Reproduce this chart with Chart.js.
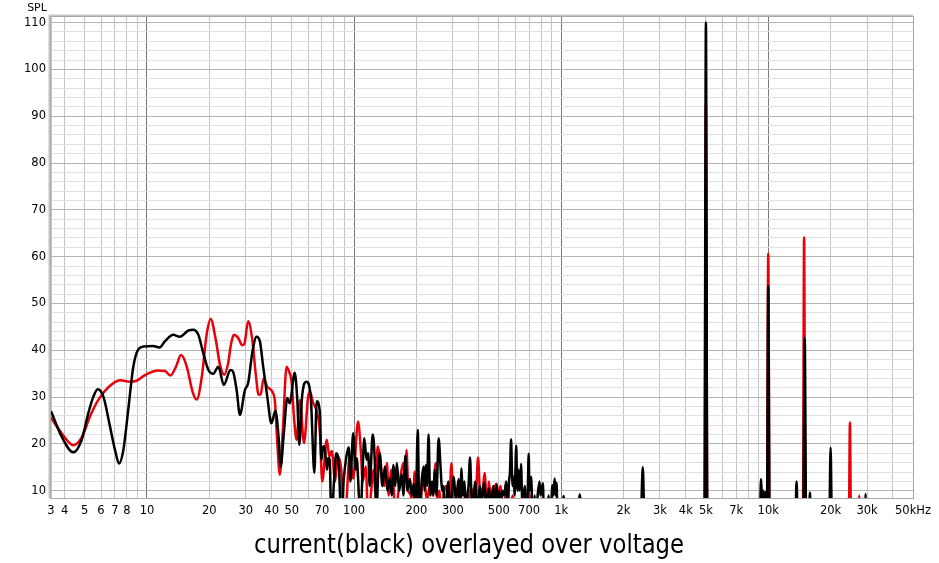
<!DOCTYPE html>
<html><head><meta charset="utf-8">
<script src="https://cdn.jsdelivr.net/npm/chart.js@4/dist/chart.umd.min.js"></script>
<style>html,body{margin:0;padding:0;background:#fff}</style>
</head><body>
<canvas id="c" width="939" height="563"></canvas>
<script>
// ---- data: [frequency Hz, level] ----
const currentLow = [[3.44,27.0],[3.87,21.6],[4.41,18.2],[4.84,20.9],[5.21,26.6],[5.5,30],[5.78,31.7],[6.16,30.1],[6.63,23.7],[7.01,18.7],[7.33,15.8],[7.69,18.7],[8.12,27.3],[8.59,36.5],[9.08,40.2],[9.6,40.8],[10.7,40.9],[11.5,40.6],[12.2,41.9],[13.4,43.3],[14.4,42.9],[15.8,44.2],[16.7,44.4],[17.7,43.3],[18.7,39.4],[19.8,35.8],[20.9,35],[22.1,36.5],[23.5,32.6],[25.3,35.8],[26,35.5],[27.1,31.5],[28.1,26.2],[29.7,31.5],[30.8,33],[32.3,39.7],[33.8,42.9],[35.1,41.9],[36.4,36.5],[38.1,30.1],[39.9,24.4],[41.7,27.1],[43.3,20.9],[44.2,15.2],[45.8,22.3],[47.6,29.8],[48.9,28.7],[51.7,35.2],[53.2,29.4],[54.4,19.8],[56.1,30.1],[58.9,33.3],[61.9,29.4]];
const currentMid = [[64.3,13.8],[66,29.1],[68.4,26.6],[69.5,16.6],[71,19.5],[72.4,18.7],[74,14.5],[75,17],[76.3,16.5],[77.7,3],[80,12],[82,18],[84.5,15.2],[86.7,3],[89,12],[91.8,17.3],[94.3,19.3],[96,12],[99,22.3],[101.7,14.5],[103,17],[105,11],[107,3],[110,14.5],[112,21.2],[115,16.6],[117,18],[119,11],[123,22],[126,15.9],[128,3],[130.5,13],[133,18],[137,11],[141,15.2],[145,10],[149,12.6],[152,9],[155,15.5],[158,11],[161,15.9],[165,10],[170,13.6],[173,9],[177,17.5],[181,10],[186,12.5],[190,9],[194,11.5],[198,3],[203,23],[207,3],[212,12],[217,15.2],[219,10],[222,15.5],[225,11],[229,22],[233,9],[238,12],[242,9],[245,14.5],[250,9],[256,21.2],[262,14.5],[266,10],[270,11],[274,3],[280,9],[285,12],[290,3],[296,9],[303,13],[310,8],[320,12.5],[325,3],[330,14.8],[335,9],[341,12],[346,3],[352,9],[357,11],[363,17.1],[368,10],[374,3],[380,10],[385,12],[390,9],[395,3],[405,11],[412,8],[418,10],[425,11.7],[432,3],[440,9],[448,10.5],[455,3],[463,9],[470,11],[478,3],[488,11.3],[495,3],[503,10],[510,3],[520,10],[530,9],[543,12],[550,3],[560,12],[566,14],[573,21],[578,14.8],[582,11],[590,13],[596,9],[607,19.6],[612,12],[617,10],[622,14.5],[630,10],[640,15.7],[646,10],[652,3],[660,9],[668,11],[675,3],[690,10],[697,17.9],[703,10],[710,11],[717,13],[722,9],[730,3],[745,9],[755,3],[770,9],[786,12],[795,9],[805,10],[817,11.6],[825,3],[845,3],[870,9],[890,3],[906,11.2],[918,9],[930,12.6],[940,9],[950,11.7],[962,3],[990,3],[1030,8.9],[1060,3],[1200,3],[1230,9.2],[1260,3]];
const currentHigh = [[2420,3],[2478,15],[2530,3],[4920,3],[5000,110],[5080,3],[9100,3],[9230,12.5],[9330,8],[9450,10],[9550,8.5],[9700,9.7],[9850,3],[10000,53.7],[10150,3],[13500,3],[13700,12],[13900,3],[14750,3],[15000,42.6],[15250,3],[15700,3],[15900,9.6],[16100,3],[19700,3],[20000,19.2],[20300,3],[29200,3],[29500,9.3],[29800,3],[50000,3]];

const voltageLow = [[3.44,25.6],[3.87,22.3],[4.41,19.7],[4.84,21.4],[5.31,25.9],[5.82,29.4],[6.51,32.1],[7.41,33.6],[8.28,33.3],[8.9,33.5],[9.78,34.7],[11.3,35.7],[12.2,35.6],[13.0,34.6],[13.8,36.5],[14.6,39],[15.5,36.8],[16.7,30.8],[17.4,29.5],[18.4,34.4],[19.4,43.3],[20.3,46.7],[21.5,42.2],[22.5,37],[23.6,34.8],[24.6,37],[25.5,41.5],[26.3,43.3],[27.6,42.6],[28.8,41.1],[29.5,41.3],[30.8,46.2],[32.3,42],[33.5,35],[34.6,30.5],[35.4,30.6],[36.6,34],[38,32.3],[40.5,31],[41.5,29],[42.6,20.2],[43.8,13.4],[45.4,23.7],[47.2,36.5],[48.5,35.5],[49.9,33.3],[51.4,25.1],[52.8,20.9],[54.8,29.4],[57.3,20.2],[60,30.1],[61.2,31.2],[63.5,28.7],[65.7,27.3]];
const voltageMid = [[68.4,22.4],[70.2,12],[73.8,20.9],[76,17.3],[78,18.5],[81,12],[83.5,17.3],[86.7,14.5],[90,3],[95.3,17.3],[99,12.6],[104.5,24.8],[108,18],[110,12],[114,15.2],[117,3],[121,10],[124.5,14.5],[127,9],[130,19.5],[134,16.6],[136.5,13],[140,11],[144,15.9],[147,9],[151,14.5],[155,11],[159,3],[163,9],[167,12.6],[173,15.9],[176,13],[179,18.7],[183,10],[188,9],[192,3],[196,14.1],[200,9],[205,3],[212,10],[218,12],[225,8],[232,11],[240,9],[248,15.9],[252,8],[258,10],[265,3],[272,10],[280,11],[287,3],[295,15.9],[300,9],[306,3],[315,9],[322,3],[330,10],[340,11],[350,3],[360,9],[370,10.5],[380,3],[390,11],[397,17.1],[405,10],[412,9],[420,11],[427,13.8],[434,9],[440,3],[448,12],[455,9],[462,3],[475,10],[488,11.5],[495,9],[510,11],[520,3],[540,9],[555,3],[585,9],[600,3],[650,3],[700,9.5],[720,3],[1000,3]];
const voltageHigh = [[4920,3],[5000,93],[5080,3],[9850,3],[10000,60.6],[10150,3],[14700,3],[14900,64.1],[15100,3],[24500,3],[24800,24.6],[25100,3],[27200,3],[27500,9],[27800,3],[50000,3]];

const xLabelFreqs = [3.44,4,5,6,7,8,10,20,30,40,50,70,100,200,300,500,700,1000,2000,3000,4000,5000,7000,10000,20000,30000,50000];
const xLabelTexts = ['3','4','5','6','7','8','10','20','30','40','50','70','100','200','300','500','700','1k','2k','3k','4k','5k','7k','10k','20k','30k','50kHz'];
const yLabelValues = [10,20,30,40,50,60,70,80,90,100,110];
const titleText = 'current(black) overlayed over voltage';
const yAxisTitle = 'SPL';

const X_MIN = 3.44, X_MAX = 50000, Y_MIN = 8.45, Y_MAX = 111.2;

// gridline positions (1..9 per decade) and y minor grid every 2
const xGrid = [X_MIN];
for (let d = 1; d <= 10000; d *= 10) for (let m = 1; m <= 9; m++) { const v = m * d; if (v > X_MIN && v <= X_MAX) xGrid.push(v); }
const yGrid = []; for (let v = 10; v <= 110; v += 2) yGrid.push(v);

const toXY = arr => arr.map(p => ({x: p[0], y: p[1]}));
const near = (a, b) => Math.abs(a - b) / b < 1e-6;

const frame = {
  id: 'frame',
  beforeDatasetsDraw(chart) {
    const {ctx, chartArea: a} = chart;
    ctx.save();
    ctx.lineWidth = 1;
    ctx.strokeStyle = '#e2e2e2';
    ctx.beginPath(); ctx.moveTo(a.left - 2.5, a.bottom); ctx.lineTo(a.left - 2.5, a.top - 2.5); ctx.lineTo(a.right, a.top - 2.5); ctx.stroke();
    ctx.strokeStyle = '#c4c4c4';
    ctx.beginPath(); ctx.moveTo(a.left - 1.5, a.bottom); ctx.lineTo(a.left - 1.5, a.top - 1.5); ctx.lineTo(a.right, a.top - 1.5); ctx.stroke();
    ctx.strokeStyle = '#a8a8a8';
    ctx.strokeRect(a.left - 0.5, a.top - 0.5, a.right - a.left + 1, a.bottom - a.top + 1);
    ctx.restore();
  },
  afterDraw(chart) {
    const {ctx} = chart;
    ctx.save();
    ctx.fillStyle = '#000';
    ctx.font = '11px "DejaVu Sans"';
    ctx.textAlign = 'center'; ctx.textBaseline = 'alphabetic';
    ctx.fillText(yAxisTitle, 37, 11);
    ctx.font = '26px "DejaVu Sans Condensed", "DejaVu Sans"';
    const w = ctx.measureText(titleText).width;
    const target = 430;
    ctx.translate(469, 553);
    ctx.scale(target / w, 1);
    ctx.fillText(titleText, 0, 0);
    ctx.restore();
  }
};

new Chart(document.getElementById('c'), {
  type: 'line',
  data: {
    datasets: [
      { label: 'current', data: toXY(currentLow.concat(currentMid, currentHigh)), borderColor: '#000000', borderWidth: 2.5, pointRadius: 0, cubicInterpolationMode: 'monotone', clip: 0 },
      { label: 'voltage', data: toXY(voltageLow.concat(voltageMid, voltageHigh)), borderColor: '#e8000b', borderWidth: 2.5, pointRadius: 0, cubicInterpolationMode: 'monotone', clip: 0 }
    ]
  },
  options: {
    responsive: false, animation: false, devicePixelRatio: 1,
    layout: { padding: { left: 0, right: 26, top: 17, bottom: 0 } },
    plugins: { legend: { display: false }, tooltip: { enabled: false }, title: { display: false } },
    scales: {
      x: {
        type: 'logarithmic', min: X_MIN, max: X_MAX,
        afterBuildTicks: s => { s.ticks = xGrid.map(v => ({ value: v })); },
        afterFit: s => { s.height = 65; },
        border: { display: false },
        grid: {
          drawTicks: false, lineWidth: 1,
          color: c => { const v = c.tick ? c.tick.value : 0; return [10, 100, 1000, 10000].some(d => near(v, d)) ? '#7a7a7a' : '#c4c4c4'; }
        },
        ticks: {
          autoSkip: false, maxRotation: 0, minRotation: 0, padding: 6, color: '#000',
          font: { family: 'DejaVu Sans', size: 11.5 },
          callback: v => { const i = xLabelFreqs.findIndex(f => near(v, f)); return i >= 0 ? xLabelTexts[i] : ''; }
        }
      },
      y: {
        type: 'linear', min: Y_MIN, max: Y_MAX,
        afterBuildTicks: s => { s.ticks = yGrid.map(v => ({ value: v })); },
        afterFit: s => { s.width = 51; },
        border: { display: false },
        grid: {
          drawTicks: false, lineWidth: 1,
          color: c => { const v = c.tick ? c.tick.value : 0; return yLabelValues.includes(v) ? '#b4b4b4' : '#e0e0e0'; }
        },
        ticks: {
          autoSkip: false, padding: 5, color: '#000',
          font: { family: 'DejaVu Sans', size: 11.5 },
          callback: v => yLabelValues.includes(v) ? String(v) : ''
        }
      }
    }
  },
  plugins: [frame]
});
</script>
</body></html>
